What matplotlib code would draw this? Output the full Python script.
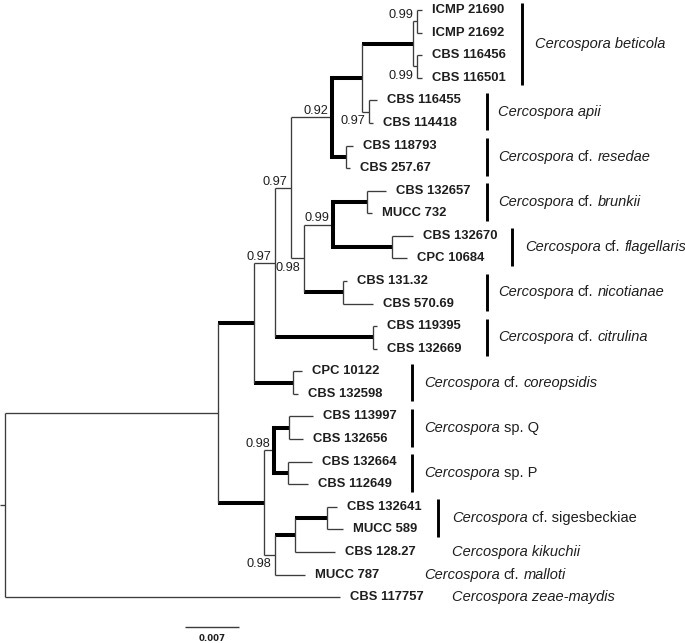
import matplotlib
matplotlib.use("Agg")
import matplotlib.pyplot as plt
from matplotlib.offsetbox import TextArea, HPacker, AnnotationBbox

# ---------------- data ----------------
tip_names = ["ICMP 21690", "ICMP 21692", "CBS 116456", "CBS 116501", "CBS 116455",
             "CBS 114418", "CBS 118793", "CBS 257.67", "CBS 132657", "MUCC 732",
             "CBS 132670", "CPC 10684", "CBS 131.32", "CBS 570.69", "CBS 119395",
             "CBS 132669", "CPC 10122", "CBS 132598", "CBS 113997", "CBS 132656",
             "CBS 132664", "CBS 112649", "CBS 132641", "MUCC 589", "CBS 128.27",
             "MUCC 787", "CBS 117757"]
tip_parent = ["BeI", "BeI", "BeC", "BeC", "Ap", "Ap", "Re", "Re", "Br", "Br",
              "Fl", "Fl", "Ni", "Ni", "Ci", "Ci", "Co", "Co", "Q", "Q",
              "P", "P", "K", "K", "L", "I", "root"]
tip_len = [0.00065, 0.00065, 0.00065, 0.00065, 0.00104, 0.00052, 0.00091, 0.00052,
           0.00246, 0.00065, 0.00272, 0.00194, 0.00052, 0.00389, 0.00052, 0.00052,
           0.00117, 0.00065, 0.00311, 0.00181, 0.00311, 0.00259, 0.00130, 0.00207,
           0.00518, 0.00389, 0.04340]

node_names = ["root", "N1", "N2", "H", "N3", "Co", "N4", "Ci", "N5", "N6", "N7", "Re",
              "Be", "Ap", "BeI", "BeC", "N8", "Ni", "Br", "Fl", "J", "I", "Q", "P",
              "L", "K"]
node_parent = [None, "root", "N1", "N1", "N2", "N2", "N3", "N3", "N4", "N4", "N5", "N5",
               "N7", "N7", "Be", "Be", "N6", "N6", "N8", "N8", "H", "H", "J", "J",
               "I", "L"]
node_len = [0.00065, 0.02760, 0.00467, 0.00596, 0.00272, 0.00506, 0.00207, 0.01270,
            0.00531, 0.00169, 0.00389, 0.00181, 0.00661, 0.00091, 0.00052, 0.00052,
            0.00376, 0.00506, 0.00441, 0.00765, 0.00130, 0.00143, 0.00194, 0.00181,
            0.00259, 0.00415]
node_support = [None, None, None, None, "0.97", None, "0.97", None, "0.92", "0.98",
                None, None, None, "0.97", "0.99", "0.99", "0.99", None, None, None,
                "0.98", "0.98", None, None, None, None]
thick_edges = ["N2", "H", "Co", "Ci", "N7", "Re", "Be", "Ni", "Br", "Fl",
               "Q", "P", "L", "K"]
thick_vertical = ["N5", "N8", "J"]

clade_segments = [
    [("Cercospora beticola", "italic")],
    [("Cercospora apii", "italic")],
    [("Cercospora", "italic"), ("cf.", "normal"), ("resedae", "italic")],
    [("Cercospora", "italic"), ("cf.", "normal"), ("brunkii", "italic")],
    [("Cercospora", "italic"), ("cf.", "normal"), ("flagellaris", "italic")],
    [("Cercospora", "italic"), ("cf.", "normal"), ("nicotianae", "italic")],
    [("Cercospora", "italic"), ("cf.", "normal"), ("citrulina", "italic")],
    [("Cercospora", "italic"), ("cf.", "normal"), ("coreopsidis", "italic")],
    [("Cercospora", "italic"), ("sp. Q", "normal")],
    [("Cercospora", "italic"), ("sp. P", "normal")],
    [("Cercospora", "italic"), ("cf. sigesbeckiae", "normal")],
    [("Cercospora kikuchii", "italic")],
    [("Cercospora", "italic"), ("cf.", "normal"), ("malloti", "italic")],
    [("Cercospora zeae-maydis", "italic")],
]
clade_first = [0, 4, 6, 8, 10, 12, 14, 16, 18, 20, 22, 24, 25, 26]
clade_last = [3, 5, 7, 9, 11, 13, 15, 17, 19, 21, 23, 24, 25, 26]

scale_value = 0.007
scale_label = "0.007"

# ---------------- layout ----------------
PX = 0.007 / 54.0          # data units per pixel (horizontal)
ROOT_PX = 5
def px2x(px):
    return (px - ROOT_PX) * PX

bar_px = [522, 487, 487, 487, 512, 487, 487, 412, 412, 412, 438, None, None, None]
text_px = [535, 498, 498, 498, 525, 498, 498, 424, 424, 424, 452, 452, 424, 452]

THIN = "#3c3c3c"
fig = plt.figure(figsize=(6.85, 6.43), dpi=100)
ax = fig.add_axes([0, 0, 1, 1])
ax.set_xlim(px2x(0), px2x(685))
ax.set_ylim(28.03, -0.443)
ax.axis("off")

# build tree
parent = {}
length = {}
for n, p, l in zip(node_names, node_parent, node_len):
    parent[n] = p
    length[n] = l
for n, p, l in zip(tip_names, tip_parent, tip_len):
    parent[n] = p
    length[n] = l
children = {}
for n in node_names + tip_names:
    p = parent[n]
    if p is not None:
        children.setdefault(p, []).append(n)

xpos = {}
def set_x(n, base):
    xpos[n] = base
    for c in children.get(n, []):
        set_x(c, base + length[c])
set_x("root", 0.0)

ypos = {t: i for i, t in enumerate(tip_names)}
def set_y(n):
    if n in ypos:
        return ypos[n]
    ys = [set_y(c) for c in children[n]]
    ypos[n] = (min(ys) + max(ys)) / 2.0
    return ypos[n]
set_y("root")

# draw branches
for n in node_names + tip_names:
    p = parent[n]
    thick = n in thick_edges
    if p is None:
        ax.plot([xpos[n] - length[n], xpos[n]], [ypos[n], ypos[n]], color=THIN,
                lw=0.95, solid_capstyle="butt")
        continue
    ax.plot([xpos[p], xpos[n]], [ypos[n], ypos[n]],
            color="black" if thick else THIN, lw=2.9 if thick else 0.95,
            solid_capstyle="butt")
for n in node_names:
    ys = [ypos[c] for c in children[n]]
    tv = n in thick_vertical
    ax.plot([xpos[n], xpos[n]], [min(ys), max(ys)],
            color="black" if tv else THIN, lw=2.9 if tv else 0.95,
            solid_capstyle="projecting" if tv else "butt")

# tip labels
for t in tip_names:
    ax.annotate(t, (xpos[t], ypos[t]), xytext=(7.2, 0), textcoords="offset points",
                ha="left", va="center", fontsize=9.4, fontweight="bold",
                family="Liberation Sans", color="#1e1e1e")

# support values
for n, s in zip(node_names, node_support):
    if s is None:
        continue
    above = ypos[n] < ypos[parent[n]]
    ax.annotate(s, (xpos[n], ypos[n]), xytext=(-2.5, 2.2 if above else -2.4),
                textcoords="offset points", ha="right",
                va="baseline" if above else "top", fontsize=9.2,
                family="Liberation Sans", color="#1e1e1e")

# clade bars and names
for segs, f, l, bx, tx in zip(clade_segments, clade_first, clade_last, bar_px, text_px):
    if bx is not None:
        ax.plot([px2x(bx), px2x(bx)], [f - 0.33, l + 0.33], color="black", lw=2.1,
                solid_capstyle="butt")
    areas = [TextArea(txt, textprops=dict(fontsize=10.5, fontstyle=st,
                                          family="Liberation Sans", color="#1e1e1e"))
             for txt, st in segs]
    pack = HPacker(children=areas, align="baseline", pad=0, sep=2.9)
    ab = AnnotationBbox(pack, (px2x(tx), (f + l) / 2.0), xycoords="data",
                        box_alignment=(0, 0.5), frameon=False, pad=0)
    ax.add_artist(ab)

# scale bar
sb_y = 27.33
ax.plot([px2x(185), px2x(185) + scale_value], [sb_y, sb_y], color=THIN, lw=1.0,
        solid_capstyle="butt")
ax.text(px2x(185) + scale_value / 2, 27.85, scale_label, ha="center", va="center",
        fontsize=6.2, fontweight="bold", family="DejaVu Sans", color="#1e1e1e")

fig.savefig("out.png", dpi=100)
